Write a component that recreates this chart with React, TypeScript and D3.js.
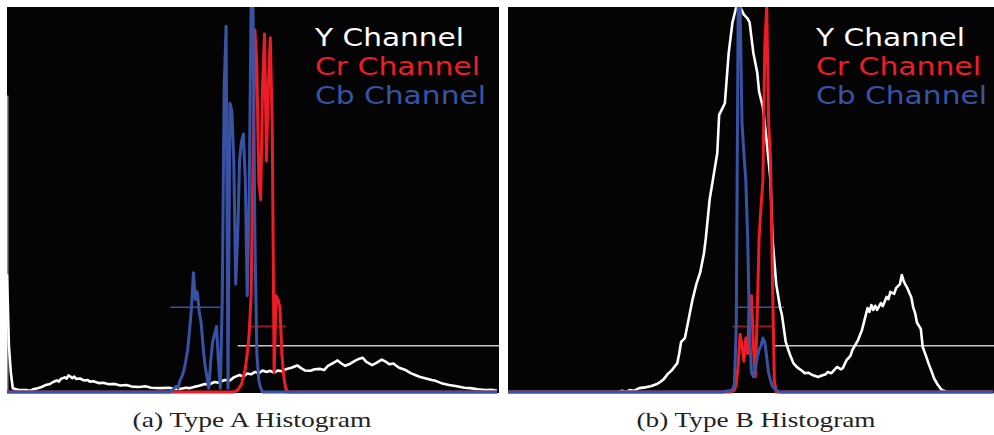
import React from 'react';
import * as d3 from 'd3';

// histogram bins (0-255) and heights in % of the panel max
const TYPE_A_Y: [number, number][] = [
  [0, 30.6], [1, 12], [2, 5], [3, 1], [6, 0.5], [10, 0.5], [12, 0.3], [14, 0.8], [16, 1], [18, 1.3], [20, 1.8],
  [22, 2], [24, 2.6], [26, 3], [27, 2.7], [28, 3.4], [30, 3.8], [31, 3.5], [32, 4.3], [33, 4], [34, 3.6], [35, 4],
  [36, 3.4], [38, 3.5], [40, 3], [42, 3.1], [43, 2.7], [45, 2.8], [48, 2.3], [50, 2.4], [53, 2], [56, 2.1],
  [59, 1.7], [62, 1.8], [65, 1.4], [69, 1.3], [72, 1.5], [75, 1.1], [80, 1.0], [84, 1.1], [88, 0.8], [90, 0.8],
  [93, 1.1], [95, 1.0], [98, 1.4], [100, 1.6], [103, 2.1], [105, 1.9], [108, 2.6], [110, 2.4], [113, 3.1],
  [116, 3.0], [118, 3.8], [121, 4.4], [123, 4.0], [125, 4.8], [127, 4.6], [129, 5.2], [131, 4.9], [133, 5.6],
  [135, 5.2], [137, 5.5], [139, 5.0], [141, 5.6], [143, 5.4], [145, 5.9], [148, 6.3], [151, 6.9], [153, 6.2],
  [155, 5.6], [158, 5.5], [160, 5.9], [163, 6.0], [165, 5.7], [167, 6.8], [170, 7.6], [172, 8.2], [174, 7.4],
  [176, 6.8], [178, 7.2], [181, 8.1], [183, 8.6], [185, 8.9], [187, 7.8], [190, 7.0], [192, 7.5], [195, 8.4],
  [197, 7.9], [199, 7.2], [201, 7.4], [204, 6.3], [207, 5.8], [210, 4.9], [213, 4.3], [215, 3.9], [218, 3.5],
  [221, 3.1], [223, 2.9], [226, 2.3], [230, 1.8], [234, 1.5], [238, 1.1], [241, 1.0], [245, 0.7], [249, 0.5],
  [252, 0.6], [255, 0.3],
];

const TYPE_A_CR: [number, number][] = [
  [0, 0], [118, 0], [120, 0.5], [122, 2], [124, 6], [125, 10], [126, 15], [127, 25], [128, 60], [129, 94],
  [130, 85], [131, 55], [132, 50], [133, 80], [134, 93], [135, 60], [136, 80], [137, 92], [138, 69], [139, 5],
  [140, 25], [141, 24], [142, 22], [143, 10], [144, 4], [145, 1], [146, 0], [255, 0],
];

const TYPE_A_CB: [number, number][] = [
  [0, 0], [85, 0], [86, 0.5], [87, 1], [88, 1.5], [89, 1], [90, 3], [91, 4], [92, 5.5], [93, 8], [94, 11],
  [95, 16], [96, 22], [97, 31], [98, 24], [99, 26], [100, 21], [101, 18], [102, 12], [103, 7], [104, 4],
  [105, 1], [106, 8], [107, 13], [108, 15], [109, 17], [110, 8], [111, 1], [112, 24], [113, 79], [114, 95],
  [115, 1], [116, 75], [117, 73], [118, 60], [119, 28], [120, 40], [121, 60], [122, 65], [123, 67], [124, 55],
  [125, 25], [126, 50], [127, 100], [128, 100], [129, 40], [130, 10], [131, 3], [132, 1], [133, 0], [255, 0],
];

const TYPE_B_Y: [number, number][] = [
  [0, 0], [58, 0], [60, 0.3], [62, 0], [64, 0.5], [66, 0.3], [69, 1], [72, 1.2], [75, 1.5], [78, 2], [80, 2.6],
  [82, 3.4], [84, 4.7], [86, 5.6], [89, 7.5], [90, 10], [91, 13], [93, 14], [95, 19], [97, 24], [99, 28],
  [101, 31], [103, 36], [104, 40], [106, 50], [108, 56], [110, 62], [111, 72], [113, 74], [114, 75], [116, 88],
  [118, 96], [120, 100], [122, 100], [124, 98], [126, 97], [127, 96], [128, 92], [129, 88], [131, 83], [132, 78],
  [134, 74], [136, 65], [138, 55], [139, 40], [141, 28], [143, 22], [144, 20], [146, 13], [148, 10], [150, 7.5],
  [152, 6.4], [154, 5.7], [156, 4.9], [158, 5], [160, 4.4], [163, 3.9], [165, 4.3], [167, 4.6], [168, 5.2],
  [170, 4.9], [173, 6.5], [175, 5.9], [176, 6.2], [178, 8.3], [180, 9.4], [181, 10.9], [184, 13.5], [186, 16],
  [187, 17.9], [189, 21.8], [190, 20.8], [191, 22.6], [192, 21.3], [193, 22.4], [194, 21.3], [196, 23.1],
  [197, 22.3], [199, 24.7], [200, 24.1], [201, 26], [203, 25.5], [204, 27], [206, 28], [207, 30.4], [208, 28.8],
  [209, 27.8], [210, 26.9], [211, 25.7], [212, 24.6], [213, 22], [214, 20.5], [215, 18], [217, 16.4], [218, 11.7],
  [220, 9], [221, 7.5], [223, 4.9], [224, 3.5], [226, 1.8], [228, 0.5], [231, 0], [255, 0],
];

const TYPE_B_CR: [number, number][] = [
  [0, 0], [117, 0], [119, 0.5], [120, 2], [121, 7], [122, 15], [123, 12], [124, 8], [125, 14], [126, 10],
  [127, 25], [128, 25], [129, 12], [130, 4], [131, 20], [132, 40], [133, 48], [134, 55], [135, 90], [136, 100],
  [137, 70], [138, 60], [139, 30], [140, 3], [141, 0], [255, 0],
];

const TYPE_B_CB: [number, number][] = [
  [0, 0], [113, 0], [118, 0.5], [119, 2], [120, 17], [121, 100], [122, 100], [123, 70], [124, 62], [125, 55],
  [126, 40], [127, 15], [128, 5], [129, 4], [130, 6], [131, 9], [132, 11], [133, 12], [134, 14], [135, 13],
  [136, 9], [137, 5], [138, 3], [139, 1.5], [141, 0.5], [143, 0], [255, 0],
];

// mean markers: channel, bin range, height
const TYPE_A_MARKERS = [
  { channel: 'Cb', from: 85, to: 111, value: 22 },
  { channel: 'Cr', from: 127, to: 145, value: 17 },
  { channel: 'Y', from: 120, to: 256, value: 12 },
];
const TYPE_B_MARKERS = [
  { channel: 'Cb', from: 120, to: 145, value: 22 },
  { channel: 'Cr', from: 118, to: 139, value: 17 },
  { channel: 'Y', from: 140, to: 256, value: 12 },
];

const CHANNELS = ['Y Channel', 'Cr Channel', 'Cb Channel'];
const CAPTIONS = ['(a) Type A Histogram', '(b) Type B Histogram'];

const COLORS: Record<string, string> = { Y: '#ffffff', Cr: '#ee1c25', Cb: '#3953a4' };
const MARKER_COLORS: Record<string, string> = { Y: '#c8c8c8', Cr: '#8e1b1f', Cb: '#3953a4' };
const LEGEND_COLORS = [COLORS.Y, COLORS.Cr, COLORS.Cb];

const TOP = 7;
const BOTTOM = 392;

type PanelProps = {
  id: string;
  x0: number;
  width: number;
  y: [number, number][];
  cr: [number, number][];
  cb: [number, number][];
  markers: { channel: string; from: number; to: number; value: number }[];
  edge?: number;
  caption: string;
  captionX: number;
};

const Panel = ({ id, x0, width, y, cr, cb, markers, edge, caption, captionX }: PanelProps) => {
  const xScale = d3.scaleLinear().domain([0, 256]).range([x0, x0 + width]);
  const yScale = d3.scaleLinear().domain([0, 100]).range([BOTTOM, TOP]);
  const line = d3
    .line<[number, number]>()
    .x((d) => xScale(d[0]))
    .y((d) => yScale(d[1]));

  const series = [
    { key: 'Y', data: y, w: 2.6 },
    { key: 'Cr', data: cr, w: 3 },
    { key: 'Cb', data: cb, w: 3 },
  ];

  return (
    <g>
      <defs>
        <clipPath id={id}>
          <rect x={x0} y={TOP} width={width} height={BOTTOM - TOP + 2} />
        </clipPath>
      </defs>
      <rect x={x0} y={TOP} width={width} height={BOTTOM - TOP + 1} fill="#040404" />
      <g clipPath={`url(#${id})`}>
        {edge !== undefined && (
          <line x1={x0 + 0.8} x2={x0 + 0.8} y1={yScale(edge)} y2={BOTTOM} stroke="#b4b4b4" strokeWidth={1.2} />
        )}
        {markers.map((m) => (
          <line
            key={m.channel}
            x1={xScale(m.from)}
            x2={xScale(m.to)}
            y1={yScale(m.value)}
            y2={yScale(m.value)}
            stroke={MARKER_COLORS[m.channel]}
            strokeWidth={m.channel === 'Cr' ? 2 : 1.5}
          />
        ))}
        {series.map((s) => (
          <path
            key={s.key}
            d={line(s.data) || ''}
            fill="none"
            stroke={COLORS[s.key]}
            strokeWidth={s.w}
            strokeLinejoin="round"
          />
        ))}
      </g>
      {CHANNELS.map((c, i) => (
        <text
          key={c}
          x={x0 + 308}
          y={46 + i * 29}
          fill={LEGEND_COLORS[i]}
          fontFamily="DejaVu Sans, sans-serif"
          fontSize={25}
          textLength={[149, 165, 171][i]}
          lengthAdjust="spacingAndGlyphs"
        >
          {c}
        </text>
      ))}
      <text
        x={captionX}
        y={427}
        textAnchor="middle"
        fontFamily="Liberation Serif, serif"
        fontSize={22}
        fill="#222"
        textLength={239}
        lengthAdjust="spacingAndGlyphs"
      >
        {caption}
      </text>
    </g>
  );
};

export default function App() {
  return (
    <div style={{ position: 'absolute', left: 0, top: 0 }}>
      <svg width={994} height={435} style={{ display: 'block', background: '#fff' }}>
        <Panel
          id="clipA"
          x0={7}
          width={492}
          y={TYPE_A_Y}
          cr={TYPE_A_CR}
          cb={TYPE_A_CB}
          markers={TYPE_A_MARKERS}
          edge={77}
          caption={CAPTIONS[0]}
          captionX={252}
        />
        <Panel
          id="clipB"
          x0={508}
          width={487}
          y={TYPE_B_Y}
          cr={TYPE_B_CR}
          cb={TYPE_B_CB}
          markers={TYPE_B_MARKERS}
          caption={CAPTIONS[1]}
          captionX={756}
        />
      </svg>
    </div>
  );
}
